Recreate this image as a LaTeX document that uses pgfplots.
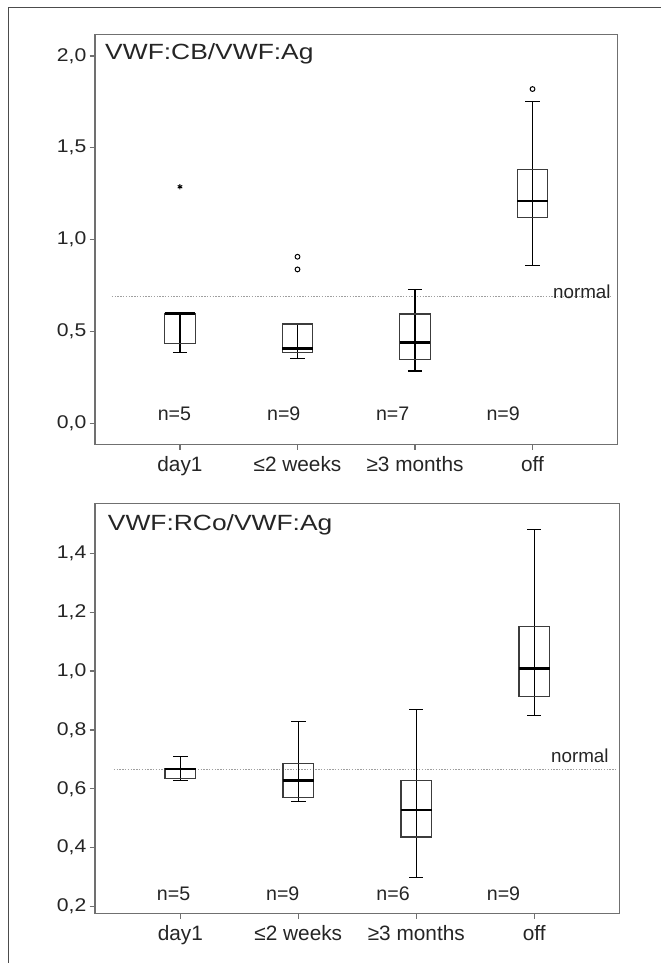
\documentclass[border=0pt]{standalone}
\usepackage{fontspec}
\setmainfont{Liberation Sans}
\newfontfamily\titlefont{Liberation Sans}[FakeStretch=1.2]
\newfontfamily\tickfont{Liberation Sans}[FakeStretch=1.15]
\usepackage{pgfplots}
\pgfplotsset{compat=1.18}
\usepgfplotslibrary{statistics}

\definecolor{framegray}{HTML}{707070}
\definecolor{boxgray}{HTML}{3C3C3C}
\definecolor{txtgray}{HTML}{252525}

% SPSS-like boxes: whisker line runs through the box
\pgfplotsset{
  spss/.style={
    scale only axis,
    xmin=0.276, xmax=4.724,
    xtick={1,2,3,4},
    xticklabels={day1, ≤2 weeks, ≥3 months, off},
    tick align=outside, tick pos=left,
    major tick length=2.6pt,
    axis line style={framegray, line width=0.65pt},
    tick style={framegray, line width=0.6pt},
    /pgf/number format/assume math mode=true,
    x tick label style={font=\fontsize{10.4}{12}\selectfont, text=txtgray, inner sep=1pt, yshift=-2.5pt},
    y tick label style={font=\tickfont\fontsize{9.2}{10}\selectfont, text=txtgray, inner sep=1.5pt,
      /pgf/number format/.cd, fixed, fixed zerofill, precision=1, use comma},
    boxplot/draw direction=y,
    boxplot/box extend=0.26,
    boxplot/whisker extend=0.122,
    boxplot/every box/.style={draw=boxgray, line width=0.6pt},
    boxplot/every whisker/.style={black, line width=0.65pt},
    boxplot/every median/.style={black, line width=1.4pt},
    boxplot/draw/lower whisker/.code={
      \draw[/pgfplots/boxplot/every whisker/.try]
        (boxplot box cs:\pgfplotsboxplotvalue{lower whisker},0.5) --
        (boxplot box cs:\pgfplotsboxplotvalue{median},0.5)
        (boxplot whisker cs:\pgfplotsboxplotvalue{lower whisker},0) --
        (boxplot whisker cs:\pgfplotsboxplotvalue{lower whisker},1);
    },
    boxplot/draw/upper whisker/.code={
      \draw[/pgfplots/boxplot/every whisker/.try]
        (boxplot box cs:\pgfplotsboxplotvalue{upper whisker},0.5) --
        (boxplot box cs:\pgfplotsboxplotvalue{median},0.5)
        (boxplot whisker cs:\pgfplotsboxplotvalue{upper whisker},0) --
        (boxplot whisker cs:\pgfplotsboxplotvalue{upper whisker},1);
    },
  },
}
\tikzset{
  nlab/.style={anchor=base, inner sep=0pt, font=\fontsize{9.8}{11}\selectfont, text=txtgray},
  normlab/.style={anchor=base east, inner sep=0pt, font=\fontsize{9.4}{10}\selectfont, text=txtgray},
  ttl/.style={anchor=base west, inner sep=0pt, font=\titlefont\fontsize{11}{13}\selectfont, text=txtgray},
}

\begin{document}
\begin{tikzpicture}
\useasboundingbox (0,0) rectangle (330.5pt,-481.5pt);
\draw[black!70, line width=0.6pt] (4.15pt,-481.5pt) -- (4.15pt,-3.65pt) -- (330.5pt,-3.65pt);

% ---- VWF:CB/VWF:Ag
\begin{axis}[spss,
  at={(47.45pt,-17.15pt)}, anchor=north west,
  width=261.35pt, height=205pt,
  ymin=-0.114, ymax=2.118,
  ytick={0,0.5,1,1.5,2},
]
\addplot[gray!75, line width=0.6pt, dash pattern=on 0.7pt off 0.7pt] coordinates {(0.419,0.689) (4.668,0.689)};
\addplot[black, mark=asterisk, mark size=1.3pt, mark options={line width=0.5pt},
  boxplot prepared={draw position=1, lower whisker=0.386, lower quartile=0.435,
    median=0.597, upper quartile=0.599, upper whisker=0.599}]
  table[row sep=\\, y index=0] {v\\ 1.288\\};
\addplot[black, mark=o, mark size=1.2pt, mark options={line width=0.5pt},
  boxplot prepared={draw position=2, lower whisker=0.354, lower quartile=0.386,
    median=0.408, upper quartile=0.541, upper whisker=0.541}]
  table[row sep=\\, y index=0] {v\\ 0.907\\ 0.838\\};
\addplot[black,
  boxplot prepared={draw position=3, lower whisker=0.285, lower quartile=0.348,
    median=0.439, upper quartile=0.595, upper whisker=0.727}]
  coordinates {};
\addplot[black, mark=o, mark size=1.2pt, mark options={line width=0.5pt},
  boxplot prepared={draw position=4, lower whisker=0.858, lower quartile=1.119,
    median=1.210, upper quartile=1.383, upper whisker=1.751}]
  table[row sep=\\, y index=0] {v\\ 1.820\\};
\node[ttl] at (rel axis cs:0.019,0.939) {VWF:CB/VWF:Ag};
\node[normlab] at (axis cs:4.668,0.680) {normal};
\node[nlab] at (axis cs:0.953,0.018) {n=5};
\node[nlab] at (axis cs:1.883,0.018) {n=9};
\node[nlab] at (axis cs:2.810,0.018) {n=7};
\node[nlab] at (axis cs:3.750,0.018) {n=9};
\end{axis}

% ---- VWF:RCo/VWF:Ag
\begin{axis}[spss,
  at={(47.45pt,-251.65pt)}, anchor=north west,
  width=262.4pt, height=205pt,
  ymin=0.177, ymax=1.570,
  ytick={0.2,0.4,0.6,0.8,1.0,1.2,1.4},
]
\addplot[gray!75, line width=0.6pt, dash pattern=on 0.7pt off 0.7pt] coordinates {(0.436,0.666) (4.696,0.666)};
\addplot[black,
  boxplot prepared={draw position=1, lower whisker=0.629, lower quartile=0.636,
    median=0.667, upper quartile=0.670, upper whisker=0.709}]
  coordinates {};
\addplot[black,
  boxplot prepared={draw position=2, lower whisker=0.558, lower quartile=0.571,
    median=0.628, upper quartile=0.687, upper whisker=0.828}]
  coordinates {};
\addplot[black,
  boxplot prepared={draw position=3, lower whisker=0.298, lower quartile=0.436,
    median=0.528, upper quartile=0.628, upper whisker=0.870}]
  coordinates {};
\addplot[black,
  boxplot prepared={draw position=4, lower whisker=0.848, lower quartile=0.913,
    median=1.008, upper quartile=1.151, upper whisker=1.482}]
  coordinates {};
\node[ttl] at (rel axis cs:0.024,0.934) {VWF:RCo/VWF:Ag};
\node[normlab] at (axis cs:4.633,0.689) {normal};
\node[nlab] at (axis cs:0.943,0.220) {n=5};
\node[nlab] at (axis cs:1.868,0.220) {n=9};
\node[nlab] at (axis cs:2.803,0.220) {n=6};
\node[nlab] at (axis cs:3.739,0.220) {n=9};
\end{axis}
\end{tikzpicture}
\end{document}
